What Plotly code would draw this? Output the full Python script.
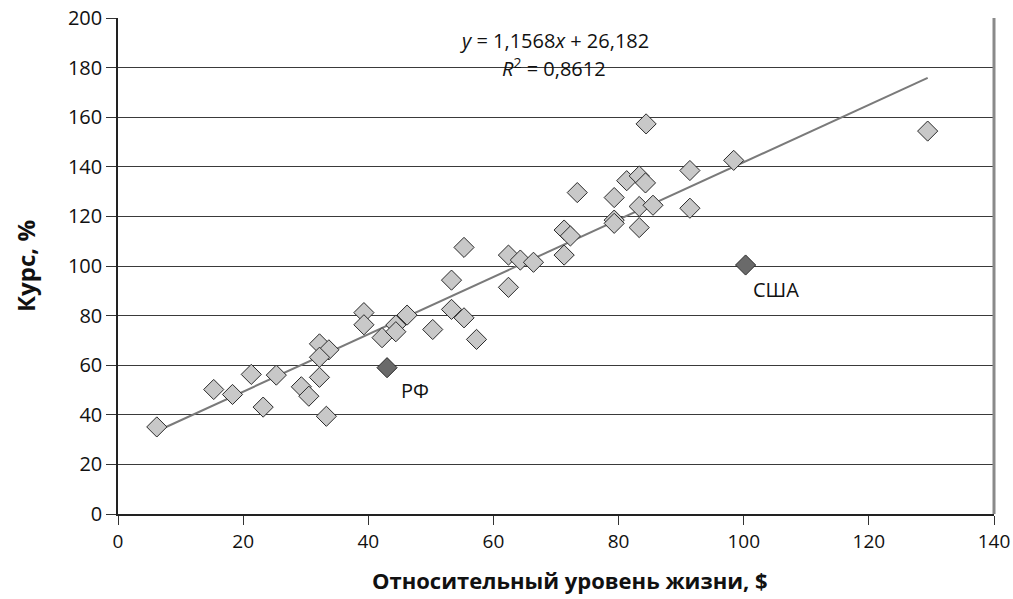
import plotly.graph_objects as go

# Relative standard of living ($) vs. exchange rate (%)
living_x = [6.2, 15.3, 18.3, 21.3, 23.2, 25.3, 29.3, 30.5, 32.2, 33.7, 32.2, 32.2, 33.3,
            39.3, 39.3, 42.2, 44.4, 44.4, 46.2, 50.3, 53.3, 53.3, 55.3, 55.3, 57.3,
            62.4, 62.4, 64.3, 66.4, 71.3, 72.3, 71.3, 73.4, 79.3, 79.3, 79.3, 81.3,
            83.3, 84.3, 83.3, 85.5, 83.3, 84.4, 91.4, 91.4, 98.4, 129.4]
rate_y = [35.1, 50.2, 48.2, 56.3, 43.1, 56.0, 51.3, 47.5, 68.6, 66.2, 63.2, 55.1, 39.4,
          81.2, 76.3, 71.1, 76.2, 73.5, 80.2, 74.4, 94.3, 82.5, 107.5, 79.1, 70.4,
          104.4, 91.4, 102.4, 101.5, 114.5, 112.1, 104.4, 129.6, 127.6, 118.5, 117.2, 134.4,
          136.3, 133.5, 124.0, 124.5, 115.5, 157.3, 138.5, 123.3, 142.6, 154.4]

# Highlighted countries
hl_names = ["РФ", "США"]
hl_x = [43.0, 100.3]
hl_y = [59.0, 100.4]

# Linear trend
slope = 1.1568
intercept = 26.182
r2 = 0.8612

x_ticks = [0, 20, 40, 60, 80, 100, 120, 140]
y_ticks = [0, 20, 40, 60, 80, 100, 120, 140, 160, 180, 200]

FONT = "Open Sans"
MARGIN = dict(l=118, r=19, t=18, b=85)
W, H = 1013, 599

def ru(v, nd):
    return f"{v:.{nd}f}".replace(".", ",")

fig = go.Figure()

x0, x1 = min(living_x), max(living_x)
fig.add_trace(go.Scatter(
    x=[x0, x1], y=[slope * x0 + intercept, slope * x1 + intercept],
    mode="lines", line=dict(color="#7a7a7a", width=2), hoverinfo="skip",
    showlegend=False))

fig.add_trace(go.Scatter(
    x=living_x, y=rate_y, mode="markers",
    marker=dict(symbol="diamond", size=15.5, color="#c8c8c8",
                line=dict(color="#2a2a2a", width=1)),
    showlegend=False))

fig.add_trace(go.Scatter(
    x=hl_x, y=hl_y, mode="markers",
    marker=dict(symbol="diamond", size=15.5, color="#6a6a6a",
                line=dict(color="#2a2a2a", width=1)),
    showlegend=False))

for name, xv, yv, dx, dy in zip(hl_names, hl_x, hl_y, [12, 5], [-7, -9]):
    fig.add_annotation(x=xv, y=yv, text=name, showarrow=False,
                       xanchor="left", yanchor="top", xshift=dx, yshift=dy,
                       font=dict(family=FONT, size=20, color="#111"))

# trend equation, two lines
fig.add_annotation(
    x=0.498, xref="paper", y=190.9, yref="y",
    text=f"<i>y</i> = {ru(slope, 4)}<i>x</i> + {ru(intercept, 3)}",
    showarrow=False, font=dict(family=FONT, size=20, color="#111"))
fig.add_annotation(
    x=0.498, xref="paper", y=180.0, yref="y",
    text=f"<i>R</i><sup>2</sup> = {ru(r2, 4)}",
    showarrow=False, font=dict(family=FONT, size=20, color="#111"))

# x-axis title, positioned in pixels below the plot area
plot_h = H - MARGIN["t"] - MARGIN["b"]
fig.add_annotation(
    x=0.516, xref="paper", y=-(580 - (H - MARGIN["b"])) / plot_h, yref="paper",
    yanchor="middle", text="<b>Относительный уровень жизни, $</b>",
    showarrow=False, font=dict(family=FONT, size=22, color="#111"))

# right border of the plot area
fig.add_shape(type="line", xref="paper", yref="paper", x0=1, x1=1, y0=0, y1=1,
              line=dict(color="#8a8a8a", width=3))

fig.update_layout(
    width=W, height=H,
    margin=MARGIN,
    paper_bgcolor="white", plot_bgcolor="white",
    font=dict(family=FONT, size=18, color="#111"),
    xaxis=dict(
        range=[0, 140], tickvals=x_ticks, ticks="outside", ticklen=9,
        tickcolor="#333", showgrid=False, zeroline=False, automargin=False,
        showline=True, linecolor="#222", linewidth=1.5,
        tickfont=dict(family=FONT, size=19),
    ),
    yaxis=dict(
        range=[0, 200], tickvals=y_ticks, ticks="outside", ticklen=10,
        tickcolor="#333", showgrid=True, gridcolor="#3a3a3a", gridwidth=1,
        zeroline=False, showline=True, linecolor="#222", linewidth=1.5,
        automargin=False, ticklabeloverflow="allow",
        tickfont=dict(family=FONT, size=20),
        title=dict(text="<b>Курс, %</b>", font=dict(family=FONT, size=24),
                   standoff=26),
    ),
)

fig.write_html("out.html")
